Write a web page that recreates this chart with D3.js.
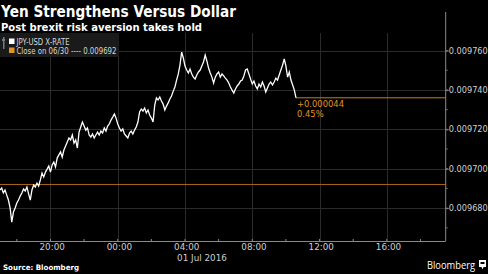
<!DOCTYPE html>
<html><head><meta charset="utf-8">
<script src="https://cdn.jsdelivr.net/npm/d3@7"></script>
<style>html,body{margin:0;padding:0;background:#000;}svg{display:block;}</style>
</head><body>
<script>
const title = "Yen Strengthens Versus Dollar";
const subtitle = "Post brexit risk aversion takes hold";
const seriesName = "JPY-USD X-RATE";
const closeLabel = "Close on 06/30 ---- 0.009692";
const closeValue = 0.009692;
const changeText = "+0.000044";
const changePct = "0.45%";
const startTime = "2016-06-30T17:00:00";
const stepMinutes = 6;
const xDomain = ["2016-06-30T17:00:00", "2016-07-01T19:30:00"];
const xTickTimes = ["2016-06-30T20:00:00","2016-07-01T00:00:00","2016-07-01T04:00:00","2016-07-01T08:00:00","2016-07-01T12:00:00","2016-07-01T16:00:00"];
const xTickLabels = ["20:00","00:00","04:00","08:00","12:00","16:00"];
const dateLabel = "01 Jul 2016";
const yTicks = [0.00968,0.00970,0.00972,0.00974,0.00976];
const yTickLabels = ["0.009680","0.009700","0.009720","0.009740","0.009760"];
const rates = [
0.0096892,0.0096902,0.0096877,0.0096892,0.0096866,0.0096841,0.0096801,0.0096729,0.0096780,0.0096801,
0.0096826,0.0096841,0.0096861,0.0096877,0.0096897,0.0096887,0.0096907,0.0096872,0.0096841,0.0096892,
0.0096917,0.0096907,0.0096927,0.0096912,0.0096943,0.0096978,0.0096958,0.0096983,0.0096998,0.0097014,
0.0096983,0.0097019,0.0097034,0.0097009,0.0097054,0.0097070,0.0097085,0.0097059,0.0097095,0.0097115,
0.0097136,0.0097156,0.0097146,0.0097171,0.0097130,0.0097146,0.0097105,0.0097186,0.0097212,0.0097237,
0.0097217,0.0097196,0.0097207,0.0097171,0.0097161,0.0097176,0.0097156,0.0097171,0.0097186,0.0097171,
0.0097191,0.0097181,0.0097207,0.0097191,0.0097217,0.0097227,0.0097247,0.0097262,0.0097278,0.0097257,
0.0097227,0.0097207,0.0097191,0.0097202,0.0097176,0.0097166,0.0097156,0.0097181,0.0097191,0.0097176,
0.0097196,0.0097212,0.0097237,0.0097288,0.0097303,0.0097293,0.0097308,0.0097283,0.0097298,0.0097273,
0.0097257,0.0097237,0.0097323,0.0097359,0.0097349,0.0097364,0.0097344,0.0097328,0.0097298,0.0097318,
0.0097334,0.0097354,0.0097369,0.0097394,0.0097415,0.0097450,0.0097481,0.0097526,0.0097592,0.0097562,
0.0097521,0.0097501,0.0097486,0.0097506,0.0097481,0.0097465,0.0097455,0.0097476,0.0097491,0.0097501,
0.0097521,0.0097542,0.0097577,0.0097547,0.0097511,0.0097486,0.0097465,0.0097435,0.0097465,0.0097481,
0.0097491,0.0097465,0.0097481,0.0097471,0.0097460,0.0097450,0.0097435,0.0097415,0.0097399,0.0097384,
0.0097405,0.0097420,0.0097430,0.0097445,0.0097450,0.0097471,0.0097501,0.0097506,0.0097481,0.0097455,
0.0097430,0.0097445,0.0097420,0.0097405,0.0097430,0.0097415,0.0097440,0.0097420,0.0097389,0.0097410,
0.0097430,0.0097440,0.0097425,0.0097440,0.0097460,0.0097450,0.0097476,0.0097501,0.0097526,0.0097557,
0.0097521,0.0097465,0.0097491,0.0097450,0.0097425,0.0097399,0.0097360
];

const W = 488, H = 274;
const pL = 0, pR = 445.7, pT = 33, pB = 241;
const svg = d3.select("body").append("svg").attr("width", W).attr("height", H)
  .style("background", "#000");

const parse = d3.isoParse;
const t0 = parse(startTime);
const data = rates.map((v, i) => ({ t: d3.timeMinute.offset(t0, i * stepMinutes), v }));

const x = d3.scaleTime().domain(xDomain.map(parse)).range([pL, pR]);
const y = d3.scaleLinear().domain([0.0096633, 0.0097689]).range([pB, pT]);

// gridlines
const grid = svg.append("g");
grid.selectAll("line.hg").data(yTicks).enter().append("line")
  .attr("x1", pL).attr("x2", pR)
  .attr("y1", d => Math.round(y(d)) + 0.5).attr("y2", d => Math.round(y(d)) + 0.5)
  .attr("stroke", "#2b2b2b").attr("stroke-width", 1);
grid.selectAll("line.vg").data(xTickTimes.map(parse)).enter().append("line")
  .attr("x1", d => Math.round(x(d)) + 0.5).attr("x2", d => Math.round(x(d)) + 0.5)
  .attr("y1", pT).attr("y2", pB)
  .attr("stroke", "#2b2b2b").attr("stroke-width", 1);

// legend box
const lg = svg.append("g");
lg.append("rect").attr("x", 0).attr("y", 33).attr("width", 119).attr("height", 24).attr("fill", "#1a1a1a");
lg.append("rect").attr("x", 3).attr("y", 37).attr("width", 1.5).attr("height", 12).attr("fill", "#6f7a8a");
lg.append("rect").attr("x", 2).attr("y", 39).attr("width", 3).attr("height", 2).attr("fill", "#6f7a8a");
lg.append("rect").attr("x", 9).attr("y", 38.5).attr("width", 5.5).attr("height", 5.5).attr("fill", "#ffffff");
lg.append("rect").attr("x", 9).attr("y", 47.5).attr("width", 5.5).attr("height", 5.5).attr("fill", "#e39326");
lg.append("text").attr("x", 16.5).attr("y", 44.5).text(seriesName)
  .attr("fill", "#d8d8d8").attr("font-family", "DejaVu Sans").attr("font-size", 8.2)
  .attr("textLength", 53).attr("lengthAdjust", "spacingAndGlyphs");
lg.append("text").attr("x", 16.5).attr("y", 53.5).text(closeLabel)
  .attr("fill", "#d8d8d8").attr("font-family", "DejaVu Sans").attr("font-size", 8.2)
  .attr("textLength", 100).attr("lengthAdjust", "spacingAndGlyphs");

// close line
svg.append("line").attr("x1", pL).attr("x2", pR)
  .attr("y1", y(closeValue)).attr("y2", y(closeValue))
  .attr("stroke", "#a8661c").attr("stroke-width", 1);

// last value line
const last = data[data.length - 1];
svg.append("line").attr("x1", x(last.t)).attr("x2", pR)
  .attr("y1", y(last.v)).attr("y2", y(last.v))
  .attr("stroke", "#c67d20").attr("stroke-width", 1);
svg.append("text").attr("x", x(last.t) + 1).attr("y", y(last.v) + 9).text(changeText)
  .attr("fill", "#e39326").attr("font-family", "DejaVu Sans").attr("font-size", 8.4);
svg.append("text").attr("x", x(last.t) + 1).attr("y", y(last.v) + 19).text(changePct)
  .attr("fill", "#e39326").attr("font-family", "DejaVu Sans").attr("font-size", 8.4);

// series line
svg.append("path").datum(data)
  .attr("d", d3.line().x(d => x(d.t)).y(d => y(d.v)))
  .attr("fill", "none").attr("stroke", "#ffffff").attr("stroke-width", 1.3)
  .attr("stroke-linejoin", "miter");

// right axis
const yMinor = d3.range(0.00967, 0.009765, 0.00001);
const yAxis = d3.axisRight(y).tickValues(yTicks).tickSize(3).tickFormat((d, i) => yTickLabels[i]);
const ya = svg.append("g").attr("transform", `translate(${pR},0)`).call(yAxis);
ya.select(".domain").remove();
ya.selectAll("line").attr("stroke", "#9a9a9a");
ya.selectAll("text").attr("fill", "#cfcfcf").attr("font-family", "DejaVu Sans").attr("font-size", 8.2).attr("x", 3);
svg.append("line").attr("x1", pR).attr("x2", pR).attr("y1", 12).attr("y2", pB)
  .attr("stroke", "#8a8a8a").attr("stroke-width", 1);
svg.append("g").selectAll("line").data(yMinor.filter(v => y(v) > pT && y(v) < pB)).enter().append("line")
  .attr("x1", pR).attr("x2", pR + 2).attr("y1", d => y(d)).attr("y2", d => y(d))
  .attr("stroke", "#777");

// bottom axis
svg.append("line").attr("x1", pL).attr("x2", pR).attr("y1", pB + 0.5).attr("y2", pB + 0.5)
  .attr("stroke", "#8a8a8a");
const xMinor = d3.timeHour.every(2).range(parse(xDomain[0]), parse(xDomain[1]));
svg.append("g").selectAll("line").data(xMinor).enter().append("line")
  .attr("x1", d => x(d)).attr("x2", d => x(d)).attr("y1", pB).attr("y2", pB - 2)
  .attr("stroke", "#8a8a8a");
const xAxis = d3.axisBottom(x).tickValues(xTickTimes.map(parse)).tickSize(0).tickFormat((d, i) => xTickLabels[i]);
const xa = svg.append("g").attr("transform", `translate(0,${pB})`).call(xAxis);
xa.select(".domain").remove();
xa.selectAll("text").attr("fill", "#cfcfcf").attr("font-family", "DejaVu Sans").attr("font-size", 8.8).attr("y", 3).attr("dx", "1.2");
svg.append("text").attr("x", 202).attr("y", 261).attr("text-anchor", "middle").text(dateLabel)
  .attr("fill", "#cfcfcf").attr("font-family", "DejaVu Sans").attr("font-size", 8.8);

// titles
svg.append("text").attr("x", 1).attr("y", 17).text(title)
  .attr("fill", "#fff").attr("font-family", "DejaVu Sans").attr("font-weight", "bold").attr("font-size", 15)
  .attr("textLength", 235).attr("lengthAdjust", "spacingAndGlyphs");
svg.append("text").attr("x", 1).attr("y", 30.5).text(subtitle)
  .attr("fill", "#fff").attr("font-family", "DejaVu Sans").attr("font-weight", "bold").attr("font-size", 10)
  .attr("textLength", 201).attr("lengthAdjust", "spacingAndGlyphs");
svg.append("text").attr("x", 3).attr("y", 270).text("Source: Bloomberg")
  .attr("fill", "#fff").attr("font-family", "DejaVu Sans").attr("font-weight", "bold").attr("font-size", 7.4)
  .attr("textLength", 76).attr("lengthAdjust", "spacingAndGlyphs");
svg.append("text").attr("x", 427).attr("y", 269).text("Bloomberg")
  .attr("fill", "#fff").attr("font-family", "Open Sans").attr("font-size", 10.5)
  .attr("textLength", 48).attr("lengthAdjust", "spacingAndGlyphs");
svg.append("rect").attr("x", 479).attr("y", 260).attr("width", 7).attr("height", 7).attr("fill", "#fff");
svg.append("rect").attr("x", 480.5).attr("y", 262).attr("width", 4).attr("height", 2).attr("fill", "#000");
svg.append("path").attr("d", "M481.5,267 L482.5,269.5 L483.5,267 Z").attr("fill", "#fff");
</script>
</body></html>
